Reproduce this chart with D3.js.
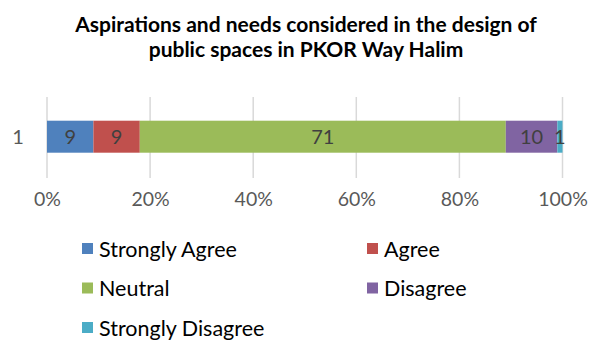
<!DOCTYPE html>
<html>
<head>
<meta charset="utf-8">
<script src="https://cdn.jsdelivr.net/npm/d3@7"></script>
<style>
  html, body { margin: 0; padding: 0; background: #fff; }
  svg { display: block; font-family: Lato, "Open Sans", sans-serif; }
</style>
</head>
<body>
<svg id="chart" width="590" height="340"></svg>
<script>
// Survey responses (percent) for a single category row
const categories = ["1"];
const seriesNames = ["Strongly Agree", "Agree", "Neutral", "Disagree", "Strongly Disagree"];
const seriesValues = [9, 9, 71, 10, 1];
const seriesColors = ["#4f81bd", "#c0504d", "#9bbb59", "#8064a2", "#4bacc6"];
const tickValues = [0, 20, 40, 60, 80, 100];
const titleLines = [
  "Aspirations and needs considered in the design of",
  "public spaces in PKOR Way Halim"
];

const svg = d3.select("#chart");
const plot = { left: 47, right: 562.5, top: 97, bottom: 178 };

// Title
svg.append("g")
  .selectAll("text")
  .data(titleLines)
  .join("text")
  .attr("x", 306)
  .attr("y", (d, i) => 32 + i * 24.5)
  .attr("text-anchor", "middle")
  .attr("font-weight", "bold")
  .attr("font-size", 21)
  .attr("fill", "#000")
  .text(d => d);

const x = d3.scaleLinear().domain([0, 100]).range([plot.left, plot.right]);
const y = d3.scaleBand().domain(categories).range([plot.top, plot.bottom]);

// Vertical gridlines
svg.append("g")
  .selectAll("line")
  .data(tickValues)
  .join("line")
  .attr("x1", d => x(d)).attr("x2", d => x(d))
  .attr("y1", plot.top).attr("y2", plot.bottom)
  .attr("stroke", "#d9d9d9")
  .attr("stroke-width", 1.5);

// Stacked segments
const stacked = [];
let acc = 0;
seriesValues.forEach((v, i) => {
  stacked.push({ name: seriesNames[i], value: v, x0: acc, x1: acc + v, color: seriesColors[i] });
  acc += v;
});

const bandH = 32;
const barY = y(categories[0]) + y.bandwidth() / 2 - bandH / 2 - 0.8;

svg.append("g")
  .selectAll("rect")
  .data(stacked)
  .join("rect")
  .attr("x", d => x(d.x0))
  .attr("y", barY)
  .attr("width", d => x(d.x1) - x(d.x0))
  .attr("height", bandH)
  .attr("fill", d => d.color);

// Value labels
svg.append("g")
  .selectAll("text")
  .data(stacked)
  .join("text")
  .attr("x", d => (x(d.x0) + x(d.x1)) / 2)
  .attr("y", barY + bandH / 2)
  .attr("dy", "0.36em")
  .attr("text-anchor", "middle")
  .attr("font-size", 20)
  .attr("fill", "#404040")
  .text(d => d.value);

// Category label
svg.append("text")
  .attr("x", 18)
  .attr("y", barY + bandH / 2)
  .attr("dy", "0.36em")
  .attr("text-anchor", "middle")
  .attr("font-size", 20)
  .attr("fill", "#595959")
  .text(categories[0]);

// X axis tick labels
const xAxis = d3.axisBottom(x)
  .tickValues(tickValues)
  .tickFormat(d => d + "%")
  .tickSize(0)
  .tickPadding(0);

const axisG = svg.append("g")
  .attr("transform", `translate(0, ${plot.bottom + 9})`)
  .call(xAxis);
axisG.select(".domain").remove();
axisG.selectAll("text")
  .attr("font-family", "Lato, 'Open Sans', sans-serif")
  .attr("font-size", 19.5)
  .attr("fill", "#595959")
  .attr("dy", "0.95em");

// Legend: two columns
const legend = svg.append("g")
  .selectAll("g")
  .data(seriesNames)
  .join("g")
  .attr("transform", (d, i) => `translate(${i % 2 === 0 ? 82 : 367}, ${249 + Math.floor(i / 2) * 39.5})`);

legend.append("rect")
  .attr("x", 0)
  .attr("y", -6)
  .attr("width", 11)
  .attr("height", 11)
  .attr("fill", (d, i) => seriesColors[i]);

legend.append("text")
  .attr("x", 17)
  .attr("y", 0)
  .attr("dy", "0.36em")
  .attr("font-size", 21.5)
  .attr("fill", "#000")
  .text(d => d);
</script>
</body>
</html>
